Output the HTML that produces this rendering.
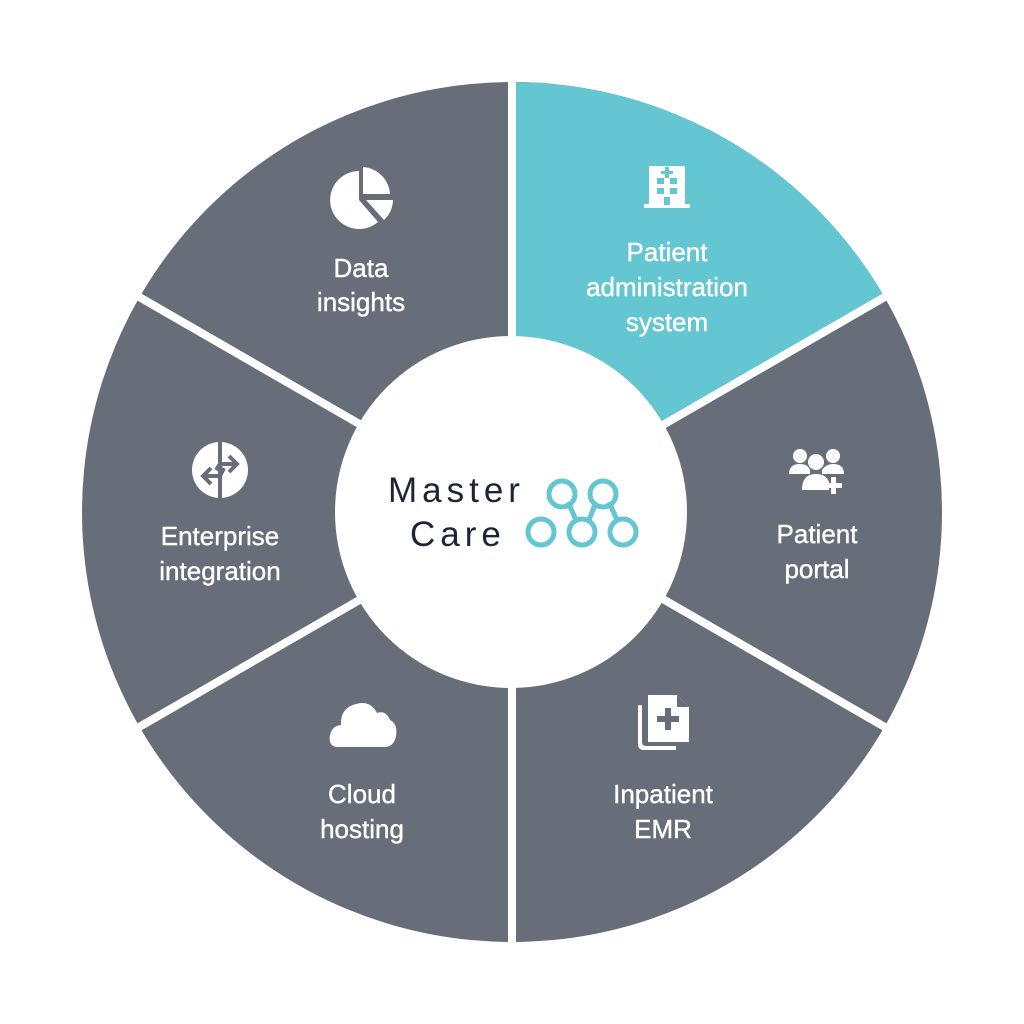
<!DOCTYPE html>
<html><head><meta charset="utf-8"><style>
html,body{margin:0;padding:0;background:#fff;}
svg{display:block;}
.t{font-family:"Liberation Sans",sans-serif;font-size:26px;fill:#fff;text-anchor:middle;stroke:#fff;stroke-width:0.4;}
</style></head><body>
<svg width="1024" height="1024" viewBox="0 0 1024 1024" xmlns="http://www.w3.org/2000/svg">
<circle cx="512" cy="512" r="430" fill="#676d79"/>
<path d="M512 512 L512 82 A430 430 0 0 1 884.4 297 Z" fill="#63c6d0"/>
<g stroke="#fff" stroke-width="8">
<line x1="512" y1="512" x2="512" y2="76"/>
<line x1="512" y1="512" x2="512" y2="948"/>
<line x1="512" y1="512" x2="890" y2="294"/>
<line x1="512" y1="512" x2="134" y2="730"/>
<line x1="512" y1="512" x2="890" y2="730"/>
<line x1="512" y1="512" x2="134" y2="294"/>
</g>
<circle cx="511" cy="512" r="176" fill="#fff"/>
<!-- logo -->
<text x="388" y="502" font-family="Liberation Sans,sans-serif" font-size="35" letter-spacing="5" fill="#1c2436">Master</text>
<text x="410" y="546" font-family="Liberation Sans,sans-serif" font-size="35" letter-spacing="5" fill="#1c2436">Care</text>
<g stroke="#63c6d0" stroke-width="5" fill="none">
<line x1="568" y1="502" x2="576" y2="520"/><line x1="596" y1="502" x2="589" y2="520"/><line x1="609" y1="502" x2="617" y2="520"/>
<circle cx="562" cy="494" r="13"/><circle cx="603" cy="494" r="13"/>
<circle cx="541" cy="532" r="13"/><circle cx="582" cy="532" r="13"/><circle cx="623" cy="532" r="13"/>
</g>
<!-- labels -->
<text class="t" x="361" y="277">Data</text><text class="t" x="361" y="311">insights</text>
<text class="t" x="667" y="261">Patient</text><text class="t" x="667" y="296">administration</text><text class="t" x="667" y="331">system</text>
<text class="t" x="817" y="543">Patient</text><text class="t" x="817" y="578">portal</text>
<text class="t" x="663" y="803">Inpatient</text><text class="t" x="663" y="838">EMR</text>
<text class="t" x="362" y="803">Cloud</text><text class="t" x="362" y="838">hosting</text>
<text class="t" x="220" y="545">Enterprise</text><text class="t" x="220" y="580">integration</text>
<!-- pie icon -->
<g fill="#fff">
<path d="M359 171 L359 200 L378 222 A29 29 0 1 1 359 171 Z"/>
<path d="M363 167 A29 29 0 0 1 390 194 L363 194 Z"/>
<path d="M366 200 L393 200 A29 29 0 0 1 384 220 Z"/>
</g>
<!-- hospital -->
<g fill="#fff">
<rect x="649" y="166" width="36" height="40"/>
<rect x="644" y="204" width="46" height="4"/>
</g>
<g fill="#63c6d0">
<rect x="665" y="167" width="4" height="11"/><rect x="661" y="171" width="12" height="3"/>
<rect x="657" y="178" width="7" height="6"/><rect x="670" y="178" width="7" height="6"/>
<rect x="657" y="188" width="7" height="6"/><rect x="670" y="188" width="7" height="6"/>
<rect x="664" y="197" width="6" height="8"/>
</g>
<!-- people -->
<g fill="#fff">
<circle cx="800" cy="456" r="7"/><path d="M789 474 Q789 464 800 464 Q808 464 810 470 L810 474 Z"/>
<circle cx="833" cy="456" r="7"/><path d="M822 470 Q826 464 833 464 Q844 464 844 474 L822 474 Z"/>
<circle cx="816" cy="462" r="8"/><path d="M802 490 Q802 474 816 474 Q826 474 829 482 L829 490 Z"/>
<rect x="831" y="477" width="5" height="17"/><rect x="825" y="483" width="17" height="5"/>
</g>
<!-- doc -->
<g fill="#fff">
<path d="M648 695 L677 695 L689 707 L689 742 L648 742 Z"/>
<path d="M638 705 L642 705 L642 742 Q642 746 646 746 L676 746 L676 750 L644 750 Q638 750 638 744 Z"/>
</g>
<g fill="#676d79"><rect x="665" y="708" width="6" height="22"/><rect x="657" y="716" width="22" height="6"/><path d="M677 695 L677 707 L689 707 Z"/></g>
<!-- cloud -->
<path fill="#fff" d="M338 747 Q328 747 330 735 Q332 726 341 725 Q340 708 356 704 Q370 700 377 713 Q386 710 390 720 Q398 724 396 736 Q394 747 384 747 Z"/>
<!-- integration -->
<circle cx="220" cy="470" r="28" fill="#fff"/>
<rect x="218" y="440" width="4" height="60" fill="#676d79"/>
<g stroke="#676d79" stroke-width="4" fill="none" stroke-linejoin="miter">
<path d="M216 470 L220 464 L236 464"/><path d="M229 456 L237 464 L229 472"/>
<path d="M224 468 L220 476 L204 476"/><path d="M211 468 L203 476 L211 484"/>
</g>
</svg>
</body></html>
